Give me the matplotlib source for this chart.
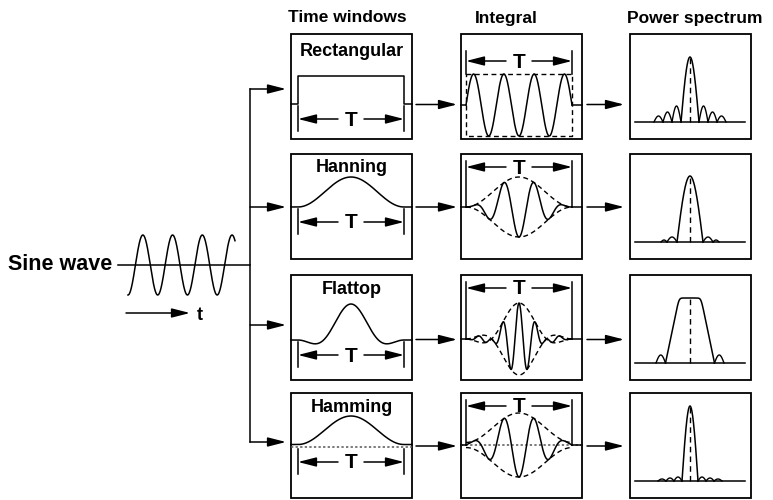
import numpy as np
import matplotlib

matplotlib.use("Agg")
import matplotlib.pyplot as plt

plt.rcParams["font.family"] = ["Liberation Sans", "DejaVu Sans"]

W, H = 773, 500
INK = "black"

HEADERS = ["Time windows", "Integral", "Power spectrum"]
HEADER_X = [347, 506, 695]
WINDOWS = ["Rectangular", "Hanning", "Flattop", "Hamming"]

COL_X = [291, 461, 630]
ROW_Y = [34, 154, 275, 393]
BOX_W, BOX_H = 121, 105

TITLE_DY = [18, 14, 15, 14]
TRUNK_Y = [89, 207, 325, 442]
WIN_BASE = [70, 53, 65, 54]
WIN_HEIGHT = [28, 30, 36, 31]
INT_BASE = [71, 53, 64, 52]
INT_AMP = [31, 30, 36, 32]
CYCLES = [3.5, 3.5, 6.5, 3.5]

# spectrum lobes: (offset from centre, half width, height) in px
SPEC_MAIN = [(9, 65), (13, 66), (24.5, 65), (8, 75)]
SPEC_FLAT_HW = 11
SPEC_SIDES = [
    [(13.5, 4.5, 16), (22.5, 4.5, 10), (31.5, 4.5, 6)],
    [(18, 5, 5), (26, 3, 2)],
    [(29.25, 4.75, 8)],
    [(12, 4, 4), (20, 4, 3), (28, 4, 2)],
]

SINE_X = (128, 235)
SINE_Y, SINE_AMP, SINE_CYCLES = 265, 30, 3.6


def window(kind, t):
    t = np.clip(t, 0, 1)
    if kind == "Rectangular":
        return np.ones_like(t)
    if kind == "Hanning":
        return 0.5 - 0.5 * np.cos(2 * np.pi * t)
    if kind == "Hamming":
        return 0.54 - 0.46 * np.cos(2 * np.pi * t)
    s = np.sin(np.pi * t) ** 2
    return s * (1 - 1.9 * (1 - s))


def arrow(ax, x0, y0, x1, y1):
    ax.annotate(
        "", xy=(x1, y1), xytext=(x0, y0),
        arrowprops=dict(arrowstyle="-|>,head_length=1.1,head_width=0.28",
                        color=INK, lw=1.1, shrinkA=0, shrinkB=0, mutation_scale=10),
    )


def t_marker(ax, xa, xb, y_arrow, y0, y1):
    for x in (xa, xb):
        ax.plot([x, x], [y0, y1], color=INK, lw=1.1)
    xm = (xa + xb) / 2
    arrow(ax, xm - 13, y_arrow, xa, y_arrow)
    arrow(ax, xm + 13, y_arrow, xb, y_arrow)
    ax.text(xm, y_arrow + 1, "T", ha="center", va="center", fontsize=15, weight="bold")


def frame(ax, x0, y0):
    ax.add_patch(plt.Rectangle((x0, y0), BOX_W, BOX_H, fill=False, ec=INK, lw=1.3))


def time_panel(ax, r):
    x0, y0 = COL_X[0], ROW_Y[r]
    kind = WINDOWS[r]
    frame(ax, x0, y0)
    ax.text(x0 + BOX_W / 2, y0 + TITLE_DY[r], kind, ha="center", va="center",
            fontsize=13, weight="bold")
    base = y0 + WIN_BASE[r]
    a, b = x0 + 7, x0 + 113
    if kind == "Rectangular":
        top = base - WIN_HEIGHT[r]
        ax.plot([x0, a, a, b, b, x0 + BOX_W], [base, base, top, top, base, base],
                color=INK, lw=1.1)
    else:
        x = np.linspace(x0, x0 + BOX_W, 400)
        w = window(kind, (x - a) / (b - a))
        if kind == "Hamming":
            ax.plot([x0, x0 + BOX_W], [base, base], color="#555555", lw=1.1,
                    ls=(0, (1.5, 1.5)))
        ax.plot(x, base - WIN_HEIGHT[r] * w, color=INK, lw=1.1)
    t_marker(ax, a, b, base + 15, base + 2, base + 27)


def integral_panel(ax, r):
    x0, y0 = COL_X[1], ROW_Y[r]
    kind = WINDOWS[r]
    frame(ax, x0, y0)
    base = y0 + INT_BASE[r]
    amp = INT_AMP[r]
    a, b = x0 + 5, x0 + 111
    x = np.linspace(a, b, 600)
    t = (x - a) / (b - a)
    w = window(kind, t)
    dash = dict(color=INK, lw=1.0, ls=(0, (3.5, 2.5)))
    if kind == "Rectangular":
        ax.plot([a, b, b, a, a], [base - amp, base - amp, base + amp, base + amp, base - amp], **dash)
        t_marker(ax, a, b, y0 + 27, y0 + 17, base - amp)
    else:
        if kind == "Hamming":
            ax.plot([x0, x0 + BOX_W], [base, base], color="#555555", lw=1.1,
                    ls=(0, (1.5, 1.5)))
        ax.plot(x, base - amp * w, **dash)
        ax.plot(x, base + amp * w, **dash)
        t_marker(ax, a, b, y0 + 13, y0 + 7, base)
    ax.plot([x0, a], [base, base], color=INK, lw=1.1)
    ax.plot([b, x0 + BOX_W], [base, base], color=INK, lw=1.1)
    ax.plot(x, base - amp * w * np.sin(2 * np.pi * CYCLES[r] * t), color=INK, lw=1.1)


def spectrum_panel(ax, r):
    x0, y0 = COL_X[2], ROW_Y[r]
    frame(ax, x0, y0)
    base = y0 + 88
    xc = x0 + 60
    ax.plot([x0 + 5, x0 + 115], [base, base], color=INK, lw=1.1)
    hw, h = SPEC_MAIN[r]
    x = np.linspace(-hw, hw, 300)
    if WINDOWS[r] == "Flattop":
        ramp = (hw - np.abs(x)) / (hw - SPEC_FLAT_HW)
        k = 0.06
        y = h * -k * np.log(np.exp(-1 / k) + np.exp(-ramp / k))
        y = np.clip(y, 0, None)
    else:
        y = h * np.cos(np.pi * x / (2 * hw))
    ax.plot(xc + x, base - y, color=INK, lw=1.1)
    for off, shw, sh in SPEC_SIDES[r]:
        xs = np.linspace(-shw, shw, 60)
        ys = sh * np.cos(np.pi * xs / (2 * shw))
        for sgn in (-1, 1):
            ax.plot(xc + sgn * off + xs, base - ys, color=INK, lw=1.0)
    ax.plot([xc, xc], [base, base - h], color=INK, lw=1.0, ls=(0, (4, 3)))


fig = plt.figure(figsize=(W / 100, H / 100), dpi=100)
ax = fig.add_axes([0, 0, 1, 1])
ax.set_xlim(0, W)
ax.set_ylim(H, 0)
ax.axis("off")

for name, hx in zip(HEADERS, HEADER_X):
    ax.text(hx, 18, name, ha="center", va="center", fontsize=12.5, weight="bold")

# input sine wave
xs = np.linspace(*SINE_X, 400)
s = (xs - SINE_X[0]) / (SINE_X[1] - SINE_X[0])
ax.plot(xs, SINE_Y + SINE_AMP * np.cos(2 * np.pi * SINE_CYCLES * s), color=INK, lw=1.1)
ax.text(112, SINE_Y, "Sine wave", ha="right", va="center", fontsize=15.5, weight="bold")
ax.plot([118, 250], [SINE_Y, SINE_Y], color=INK, lw=1.1)
arrow(ax, 126, 313, 190, 313)
ax.text(200, 316, "t", ha="center", va="center", fontsize=13, weight="bold")

# trunk
ax.plot([250, 250], [TRUNK_Y[0], TRUNK_Y[-1]], color=INK, lw=1.1)
for ty in TRUNK_Y:
    arrow(ax, 250, ty, COL_X[0] - 5, ty)

for r in range(4):
    time_panel(ax, r)
    integral_panel(ax, r)
    spectrum_panel(ax, r)
    yb = ROW_Y[r] + (WIN_BASE[r] + INT_BASE[r]) / 2
    arrow(ax, COL_X[0] + BOX_W + 4, yb, COL_X[1] - 4, yb)
    arrow(ax, COL_X[1] + BOX_W + 5, yb, COL_X[2] - 6, yb)

fig.savefig("out.png", dpi=100)
